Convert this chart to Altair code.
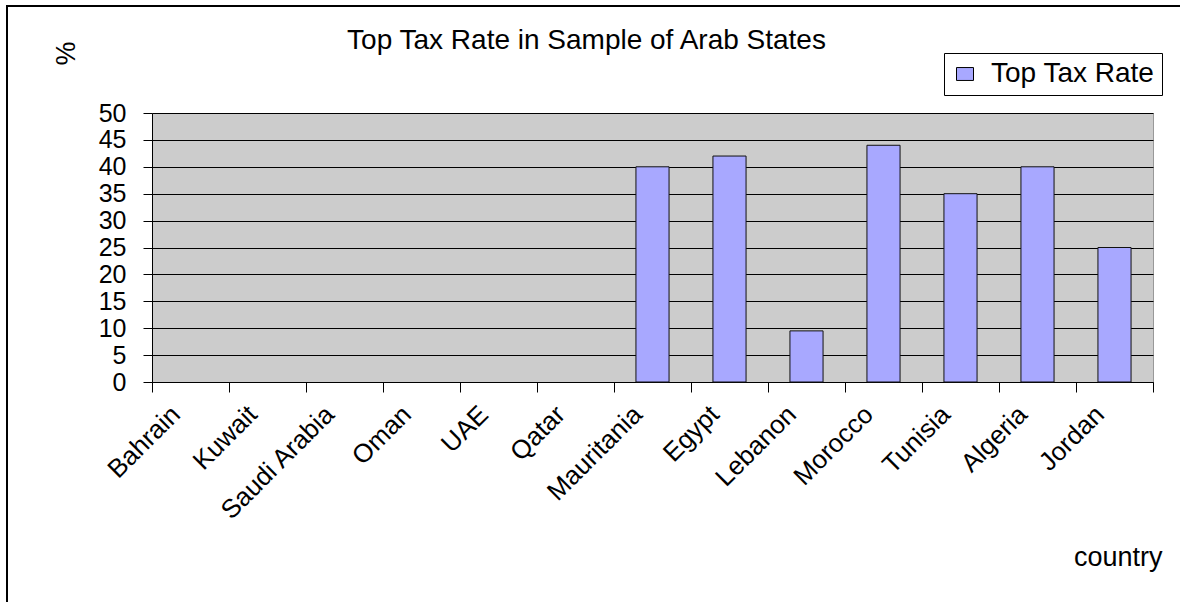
import altair as alt
import pandas as pd

countries = ["Bahrain", "Kuwait", "Saudi Arabia", "Oman", "UAE", "Qatar",
             "Mauritania", "Egypt", "Lebanon", "Morocco", "Tunisia", "Algeria", "Jordan"]
rates = [None, None, None, None, None, None, 40, 42, 9.5, 44, 35, 40, 25]
series = ["Top Tax Rate"] * len(countries)
y_ticks = [0, 5, 10, 15, 20, 25, 30, 35, 40, 45, 50]

df = pd.DataFrame({"country": countries, "rate": rates, "series": series})

FONT = "Liberation Sans"
W, H = 1001, 269
STEP = W / len(countries)

bars = alt.Chart(df).mark_bar(
    width=alt.RelativeBandSize(0.43), stroke="#111111", strokeWidth=1
).encode(
    x=alt.X("country:N", sort=countries,
            scale=alt.Scale(domain=countries, paddingInner=0, paddingOuter=0),
            axis=alt.Axis(title="country", labelAngle=-45, labelAlign="right",
                          labelBaseline="middle", labelFont=FONT, labelFontSize=26,
                          labelColor="black", labelPadding=18, labelOffset=-STEP / 2 + 24,
                          bandPosition=1, tickExtra=True, tickSize=10, tickColor="black",
                          domainColor="black", grid=False,
                          titleFont=FONT, titleFontSize=27, titleFontWeight="normal",
                          titleColor="black", titleX=1010, titleY=183,
                          titleAlign="right", titleBaseline="alphabetic", titleAngle=0)),
    y=alt.Y("rate:Q", scale=alt.Scale(domain=[0, 50], nice=False),
            axis=alt.Axis(title="%", values=y_ticks, tickSize=9, tickColor="black",
                          domainColor="black", labelFont=FONT, labelFontSize=25,
                          labelColor="black", labelPadding=17, grid=True,
                          gridColor="#000000", gridWidth=1,
                          titleFont=FONT, titleFontSize=27, titleFontWeight="normal",
                          titleColor="black", titleX=-86, titleY=-60, titleAngle=-90,
                          titleAlign="center", titleBaseline="middle")),
    color=alt.Color("series:N",
                    scale=alt.Scale(domain=["Top Tax Rate"], range=["#A8A8FF"]),
                    legend=alt.Legend(title=None, orient="none", legendX=792, legendY=-60,
                                      strokeColor="black", fillColor="white", padding=7,
                                      symbolType="M-1,-0.76L1,-0.76L1,0.76L-1,0.76Z",
                                      symbolSize=289,
                                      symbolStrokeColor="black", symbolStrokeWidth=1,
                                      labelFont=FONT, labelFontSize=28, labelColor="black",
                                      labelOffset=12, labelLimit=400)),
)

border = alt.Chart(df).mark_rect(fill=None, stroke="black", strokeWidth=2).encode(
    x=alt.value(-145), x2=alt.value(1100), y=alt.value(-107), y2=alt.value(600)
)

chart = alt.layer(border, bars).properties(
    width=W, height=H,
    autosize=alt.AutoSizeParams(type="none"),
    padding={"left": 152, "top": 113, "right": 27, "bottom": 220},
    title=alt.TitleParams("Top Tax Rate in Sample of Arab States", font=FONT, fontSize=28,
                          fontWeight="normal", color="black", anchor="middle",
                          dx=-66, dy=72, offset=0, baseline="alphabetic"),
).configure(background="white").configure_view(fill="#CCCCCC", stroke="#999999")

chart.save("out.html", embed_options={"renderer": "svg", "actions": False})
